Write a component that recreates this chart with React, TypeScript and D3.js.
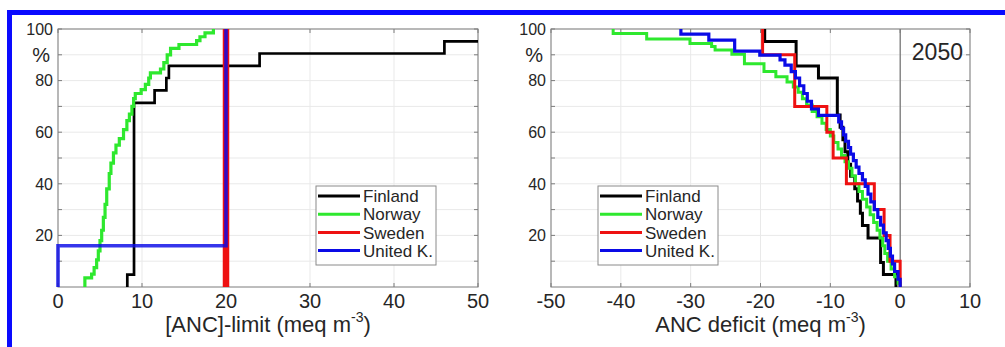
import React from "react";
import * as d3 from "d3";

// ---------- data ----------
const countries = ["Finland", "Norway", "Sweden", "United K."];
const colors = ["#000000", "#2ee82e", "#ee1111", "#0a0ae6"];

const xTicksLeft = [0, 10, 20, 30, 40, 50];
const xTicksRight = [-50, -40, -30, -20, -10, 0, 10];
const yTickLabels = [20, 40, 60, 80, 100];
const yTicks = [10, 20, 30, 40, 50, 60, 70, 80, 90, 100];

// Left panel: [ANC]-limit cumulative distributions (x, % after step)
const finlandLimit: [number, number][] = [
  [8.25, 0], [8.25, 4.8], [9.05, 71.4], [11.5, 76.2], [12.9, 81.0], [13.2, 85.7],
  [24.0, 90.5], [46.0, 95.2], [50, 95.2],
];
const norwayLimit: [number, number][] = [
  [3.2, 0], [3.2, 3.5], [4.0, 5.0], [4.3, 7.5], [4.6, 10.5], [4.8, 14.0], [5.0, 18.0],
  [5.2, 22.0], [5.4, 27.0], [5.6, 32.0], [5.8, 38.0], [6.1, 44.0], [6.3, 48.0],
  [6.6, 52.0], [6.9, 55.0], [7.3, 57.5], [7.8, 61.0], [8.2, 64.5], [8.5, 67.0],
  [8.8, 70.0], [9.0, 73.0], [9.2, 75.0], [9.9, 76.5], [10.4, 78.5], [10.8, 81.0],
  [11.0, 83.0], [12.2, 84.5], [12.6, 87.0], [13.0, 90.0], [13.4, 92.5], [14.4, 94.0],
  [16.5, 95.5], [16.9, 97.0], [17.5, 98.5], [18.5, 100],
];
const swedenLimit: [number, number][] = [[20, 0], [20, 100]];
const ukLimit: [number, number][] = [[0, 0], [0, 16], [20, 100]];

// Right panel: ANC deficit distributions (x, % after step)
const finlandDeficit: [number, number][] = [
  [-19.4, 100], [-19.4, 95.2], [-14.9, 85.7], [-11.7, 81.0], [-9.0, 66.7], [-8.6, 61.9],
  [-8.2, 57.1], [-7.9, 52.4], [-7.5, 47.6], [-7.1, 42.9], [-6.5, 38.1], [-6.1, 33.3],
  [-5.7, 28.6], [-5.4, 23.8], [-4.6, 19.0], [-2.8, 9.5], [-2.4, 4.8], [-0.6, 0],
];
const norwayDeficit: [number, number][] = [
  [-41.1, 100], [-41.1, 98.3], [-36.3, 96.1], [-30.1, 94.4], [-27.0, 93.2], [-26.5, 91.9],
  [-24.1, 90.2], [-22.3, 86.5], [-19.5, 83.5], [-17.8, 81.5], [-16.2, 79.5], [-15.3, 77.5],
  [-14.6, 75.5], [-14.0, 73.0], [-13.4, 70.5], [-12.6, 68.0], [-11.9, 66.0], [-11.2, 63.5],
  [-10.6, 61.0], [-10.0, 58.5], [-9.5, 56.0], [-8.9, 53.5], [-8.4, 51.0], [-7.9, 48.5],
  [-7.4, 46.0], [-6.9, 43.0], [-6.4, 40.0], [-5.9, 37.0], [-5.4, 34.0], [-4.8, 31.0],
  [-4.3, 28.0], [-3.8, 25.0], [-3.3, 22.0], [-2.9, 19.0], [-2.5, 16.0], [-2.2, 13.0],
  [-1.8, 10.0], [-1.3, 7.0], [-0.8, 4.0], [-0.3, 1.5], [0, 0],
];
const swedenDeficit: [number, number][] = [
  [-19.7, 100], [-19.7, 90], [-15.1, 70], [-10.5, 60], [-9.6, 50], [-7.7, 40],
  [-3.7, 30], [-2.3, 20], [-1.45, 10], [0, 0],
];
const ukDeficit: [number, number][] = [
  [-31.4, 100], [-31.4, 98.0], [-27.4, 95.7], [-23.7, 91.4], [-20.1, 89.9], [-17.2, 88.0],
  [-16.5, 86.0], [-15.6, 83.5], [-15.0, 81.0], [-14.4, 78.0], [-13.8, 75.0], [-13.3, 72.0],
  [-12.7, 69.0], [-11.7, 66.5], [-8.8, 64.0], [-8.4, 61.5], [-8.1, 59.0], [-7.8, 56.5],
  [-7.4, 54.0], [-7.1, 51.5], [-6.7, 49.0], [-6.3, 46.5], [-5.9, 44.0], [-5.4, 41.5],
  [-5.0, 39.0], [-4.6, 36.0], [-4.2, 33.0], [-3.7, 30.0], [-3.2, 27.0], [-2.8, 24.0],
  [-2.4, 21.0], [-2.0, 18.0], [-1.7, 15.0], [-1.4, 12.0], [-1.1, 9.0], [-0.8, 6.0],
  [-0.3, 3.0], [0, 0],
];

// ---------- layout ----------
const W = 1005;
const H = 347;
const yTop = 29;
const yBot = 287;
const FONT = "'Liberation Sans', Arial, Helvetica, sans-serif";
const TXT = "#262626";
const AX = "#7d7d7d";
const GRID = "#e9e9e9";

type Series = { name: string; color: string; data: [number, number][]; width: number; opacity?: number };

function Panel(props: {
  x0: number;
  x1: number;
  domain: [number, number];
  ticks: number[];
  series: Series[];
  legendX: number;
  legendY: number;
  label: string;
  zeroLine?: boolean;
  tag?: string;
}) {
  const { x0, x1, domain, ticks, series, legendX, legendY, label, zeroLine, tag } = props;
  const x = d3.scaleLinear().domain(domain).range([x0, x1]);
  const y = d3.scaleLinear().domain([0, 100]).range([yBot, yTop]);
  const line = d3
    .line<[number, number]>()
    .x((d) => x(d[0]))
    .y((d) => y(d[1]))
    .curve(d3.curveStepAfter);
  const cx = (x0 + x1) / 2;
  return (
    <g>
      <rect x={x0} y={yTop} width={x1 - x0} height={yBot - yTop} fill="#fff" />
      {ticks.map((t) => (
        <line key={"gx" + t} x1={x(t)} x2={x(t)} y1={yTop} y2={yBot} stroke={GRID} strokeWidth={1} />
      ))}
      {yTicks.map((t) => (
        <line key={"gy" + t} x1={x0} x2={x1} y1={y(t)} y2={y(t)} stroke={GRID} strokeWidth={1} />
      ))}
      {zeroLine && <line x1={x(0)} x2={x(0)} y1={yTop} y2={yBot} stroke="#555" strokeWidth={1} />}
      {/* tick marks */}
      {ticks.map((t) => (
        <g key={"tx" + t}>
          <line x1={x(t)} x2={x(t)} y1={yBot} y2={yBot - 4} stroke={AX} />
          <line x1={x(t)} x2={x(t)} y1={yTop} y2={yTop + 4} stroke={AX} />
        </g>
      ))}
      {yTicks.map((t) => (
        <g key={"ty" + t}>
          <line x1={x0} x2={x0 + 4} y1={y(t)} y2={y(t)} stroke={AX} />
          <line x1={x1} x2={x1 - 4} y1={y(t)} y2={y(t)} stroke={AX} />
        </g>
      ))}
      <rect x={x0} y={yTop} width={x1 - x0} height={yBot - yTop} fill="none" stroke={AX} strokeWidth={1} />
      {series.map((s) => (
        <path
          key={s.name}
          d={line(s.data) || ""}
          fill="none"
          stroke={s.color}
          strokeWidth={s.width}
          strokeOpacity={s.opacity ?? 1}
          strokeLinejoin="miter"
          strokeLinecap="butt"
        />
      ))}
      {/* tick labels */}
      {ticks.map((t) => (
        <text key={"lx" + t} x={x(t)} y={yBot + 21} textAnchor="middle" fontSize={20} fill={TXT} fontFamily={FONT}>
          {t}
        </text>
      ))}
      {yTickLabels.map((t) => (
        <text key={"ly" + t} x={x0 - 5} y={y(t)} dy="0.36em" textAnchor="end" fontSize={16} fill={TXT} fontFamily={FONT}>
          {t}
        </text>
      ))}
      <text x={x0 - 8} y={y(90)} dy="0.36em" textAnchor="end" fontSize={20} fill={TXT} fontFamily={FONT}>
        %
      </text>
      <text x={cx} y={332} textAnchor="middle" fontSize={22} fill={TXT} fontFamily={FONT}>
        {label}
        <tspan fontSize={14} dy={-10}>-3</tspan>
        <tspan dy={10}>)</tspan>
      </text>
      {tag && (
        <text x={x1 - 7} y={60} textAnchor="end" fontSize={23} fill={TXT} fontFamily={FONT}>
          {tag}
        </text>
      )}
      {/* legend */}
      <rect x={legendX} y={legendY} width={120} height={79} fill="#fff" stroke="#8a8a8a" strokeWidth={1} />
      {series.map((s, i) => {
        const ly = legendY + 10 + i * 18.2;
        return (
          <g key={"lg" + s.name}>
            <line x1={legendX + 2} x2={legendX + 44} y1={ly} y2={ly} stroke={colors[i]} strokeWidth={3} />
            <text x={legendX + 47} y={ly} dy="0.36em" fontSize={17} fill={TXT} fontFamily={FONT}>
              {s.name}
            </text>
          </g>
        );
      })}
    </g>
  );
}

export default function App() {
  const leftSeries: Series[] = [
    { name: countries[0], color: colors[0], data: finlandLimit, width: 2.7 },
    { name: countries[1], color: colors[1], data: norwayLimit, width: 3.2 },
    { name: countries[2], color: colors[2], data: swedenLimit, width: 6.5 },
    { name: countries[3], color: colors[3], data: ukLimit, width: 3.6, opacity: 0.82 },
  ];
  const rightSeries: Series[] = [
    { name: countries[0], color: colors[0], data: finlandDeficit, width: 3 },
    { name: countries[1], color: colors[1], data: norwayDeficit, width: 3 },
    { name: countries[2], color: colors[2], data: swedenDeficit, width: 3 },
    { name: countries[3], color: colors[3], data: ukDeficit, width: 3.2 },
  ];
  return (
    <svg
      width={W}
      height={H}
      viewBox={`0 0 ${W} ${H}`}
      style={{ position: "absolute", left: 0, top: 0, background: "#fff" }}
    >
      <rect x={0} y={0} width={W} height={H} fill="#fff" />
      <rect x={7} y={10} width={W - 7} height={5} fill="#0a0aff" />
      <rect x={7} y={10} width={5} height={H - 10} fill="#0a0aff" />
      <Panel
        x0={58}
        x1={478}
        domain={[0, 50]}
        ticks={xTicksLeft}
        series={leftSeries}
        legendX={316}
        legendY={186}
        label="[ANC]-limit (meq m"
      />
      <Panel
        x0={551}
        x1={970}
        domain={[-50, 10]}
        ticks={xTicksRight}
        series={rightSeries}
        legendX={598}
        legendY={186}
        label="ANC deficit (meq m"
        zeroLine
        tag="2050"
      />
    </svg>
  );
}
